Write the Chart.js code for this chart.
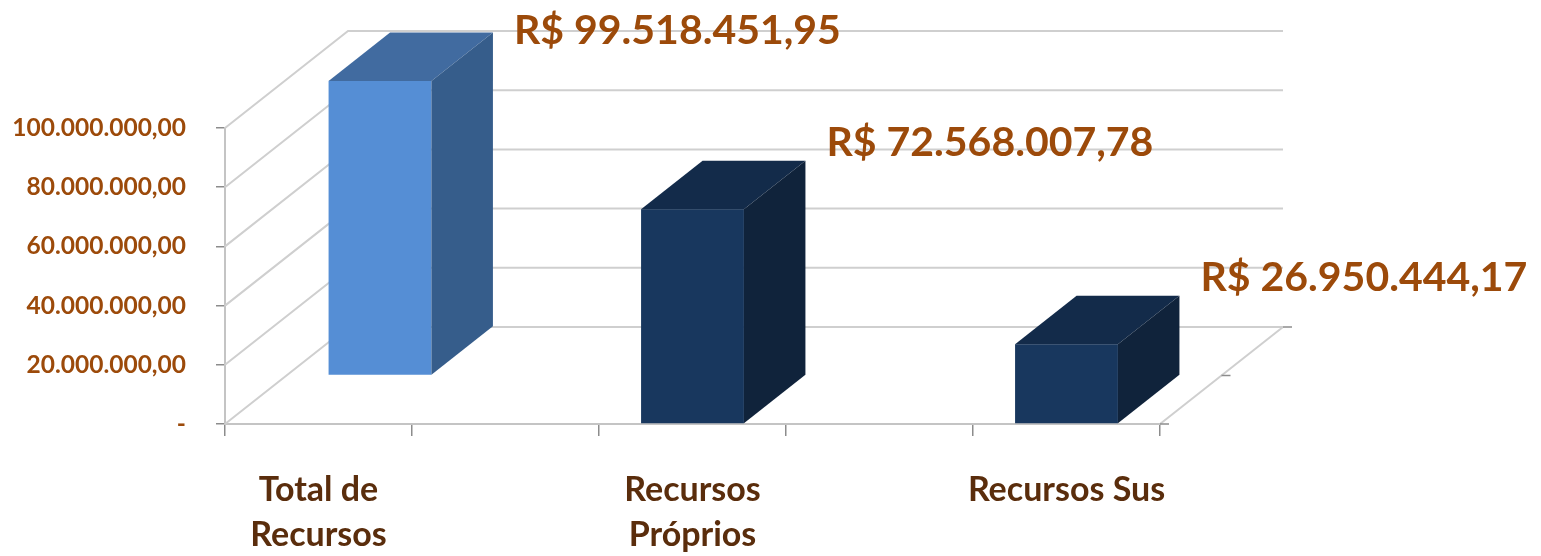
<!DOCTYPE html>
<html>
<head>
<meta charset="utf-8">
<script src="https://cdn.jsdelivr.net/npm/chart.js@4"></script>
<style>
  body { margin: 0; background: #fff; }
  #wrap { width: 1541px; height: 556px; }
</style>
</head>
<body>
<div id="wrap"><canvas id="barChart" width="1541" height="556"></canvas></div>
<script>
// categories (two empty slots sit between the columns, as in the source sheet)
const categories = [['Total de', 'Recursos'], '', ['Recursos', 'Próprios'], '', 'Recursos Sus'];
// back row series
const totalValues = [99518451.95, null, null, null, null];
// front row series
const sourceValues = [null, null, 72568007.78, null, 26950444.17];
// y axis range
const Y_MIN = 0;
const Y_MAX = 100000000;
const Y_STEP = 20000000;

// projection of the full chart depth, px
const DEPTH = { x: 123, y: -97 };
const ROWS = 2;

const VALUE_COLOR = '#9C4A0A';
const CAT_COLOR = '#5A2D0C';

function fmt(v) {
  const parts = v.toFixed(2).split('.');
  return parts[0].replace(/\B(?=(\d{3})+(?!\d))/g, '.') + ',' + parts[1];
}

const box3d = {
  id: 'box3d',
  beforeDatasetsDraw(chart) {
    const { ctx, chartArea: a, scales: { y } } = chart;
    ctx.save();
    ctx.strokeStyle = '#CFCFCF';
    ctx.lineWidth = 2;
    // side wall + back wall gridlines
    y.ticks.forEach(t => {
      const py = y.getPixelForValue(t.value);
      ctx.beginPath();
      ctx.moveTo(a.left, py);
      ctx.lineTo(a.left + DEPTH.x, py + DEPTH.y);
      ctx.lineTo(a.right + DEPTH.x, py + DEPTH.y);
      ctx.stroke();
    });
    // right floor edge
    ctx.beginPath();
    ctx.moveTo(a.right, a.bottom);
    ctx.lineTo(a.right + DEPTH.x, a.bottom + DEPTH.y);
    ctx.stroke();
    // depth axis ticks
    ctx.strokeStyle = '#8C8C8C';
    ctx.lineWidth = 1.5;
    [0, 0.5, 1].forEach(f => {
      const px = a.right + f * DEPTH.x, py = a.bottom + f * DEPTH.y;
      ctx.beginPath();
      ctx.moveTo(px, py);
      ctx.lineTo(px + 9, py);
      ctx.stroke();
    });
    ctx.restore();
  },
  afterDatasetsDraw(chart) {
    const { ctx } = chart;
    const labels = [];
    const order = chart.data.datasets.map((d, i) => i).sort((a, b) => chart.data.datasets[b].row - chart.data.datasets[a].row);
    ctx.save();
    order.forEach(i => {
      const ds = chart.data.datasets[i];
      const meta = chart.getDatasetMeta(i);
      const o1 = { x: DEPTH.x * ds.row / ROWS, y: DEPTH.y * ds.row / ROWS };
      const o2 = { x: DEPTH.x * (ds.row + 1) / ROWS, y: DEPTH.y * (ds.row + 1) / ROWS };
      meta.data.forEach((el, j) => {
        if (ds.data[j] == null) return;
        const p = el.getProps(['x', 'y', 'base', 'width'], true);
        const x0 = p.x - p.width / 2, x1 = p.x + p.width / 2;
        // front
        ctx.fillStyle = ds.faces.front;
        ctx.fillRect(x0 + o1.x, p.y + o1.y, p.width, p.base - p.y);
        // top
        ctx.fillStyle = ds.faces.top;
        ctx.beginPath();
        ctx.moveTo(x0 + o1.x, p.y + o1.y);
        ctx.lineTo(x1 + o1.x, p.y + o1.y);
        ctx.lineTo(x1 + o2.x, p.y + o2.y);
        ctx.lineTo(x0 + o2.x, p.y + o2.y);
        ctx.closePath();
        ctx.fill();
        // side
        ctx.fillStyle = ds.faces.side;
        ctx.beginPath();
        ctx.moveTo(x1 + o1.x, p.y + o1.y);
        ctx.lineTo(x1 + o2.x, p.y + o2.y);
        ctx.lineTo(x1 + o2.x, p.base + o2.y);
        ctx.lineTo(x1 + o1.x, p.base + o1.y);
        ctx.closePath();
        ctx.fill();
        labels.push({ x: x1 + o2.x + 21, y: Math.max(p.y + o2.y - 18, 31), text: 'R$ ' + fmt(ds.data[j]) });
      });
    });
    ctx.fillStyle = VALUE_COLOR;
    ctx.font = 'bold 41px Lato, "Open Sans", sans-serif';
    ctx.textAlign = 'left';
    ctx.textBaseline = 'middle';
    labels.forEach(l => ctx.fillText(l.text, l.x, l.y));
    ctx.restore();
  }
};

function drawChart() {
  const el = document.getElementById('barChart');
  new Chart(el, {
    type: 'bar',
    data: {
      labels: categories,
      datasets: [
        {
          label: 'Total de Recursos',
          data: totalValues,
          row: 1,
          faces: { front: '#558ED5', top: '#416BA0', side: '#365D8B' },
          backgroundColor: 'rgba(0,0,0,0)',
          borderWidth: 0
        },
        {
          label: 'Recursos',
          data: sourceValues,
          row: 0,
          faces: { front: '#18375E', top: '#132B4A', side: '#10233B' },
          backgroundColor: 'rgba(0,0,0,0)',
          borderWidth: 0
        }
      ]
    },
    options: {
      responsive: false,
      animation: false,
      grouped: false,
      categoryPercentage: 1,
      barPercentage: 0.55,
      layout: { padding: { top: 128, right: 381, left: 0, bottom: 0 } },
      plugins: { legend: { display: false }, tooltip: { enabled: false } },
      scales: {
        x: {
          offset: true,
          afterFit(s) { s.height = 132; },
          grid: { display: true, offset: true, drawOnChartArea: false, tickLength: 12, color: '#8C8C8C', lineWidth: 1.5 },
          border: { display: true, color: '#C4C4C4', width: 2 },
          ticks: {
            autoSkip: false, maxRotation: 0, minRotation: 0, padding: 32,
            color: CAT_COLOR,
            font: { family: 'Lato, "Open Sans", sans-serif', size: 34, weight: 'bold', lineHeight: 1.32 }
          }
        },
        y: {
          min: Y_MIN,
          max: Y_MAX,
          afterFit(s) { s.width = 225; },
          grid: { display: true, drawOnChartArea: false, tickLength: 9, color: '#8C8C8C', lineWidth: 1.5 },
          border: { display: true, color: '#C4C4C4', width: 2 },
          ticks: {
            stepSize: Y_STEP,
            padding: 30,
            color: VALUE_COLOR,
            font: { family: 'Lato, "Open Sans", sans-serif', size: 24.5, weight: 'bold' },
            callback: v => v === 0 ? '-' : fmt(v)
          }
        }
      }
    },
    plugins: [box3d]
  });
}

document.fonts.load('bold 24px Lato').then(drawChart, drawChart);
</script>
</body>
</html>
